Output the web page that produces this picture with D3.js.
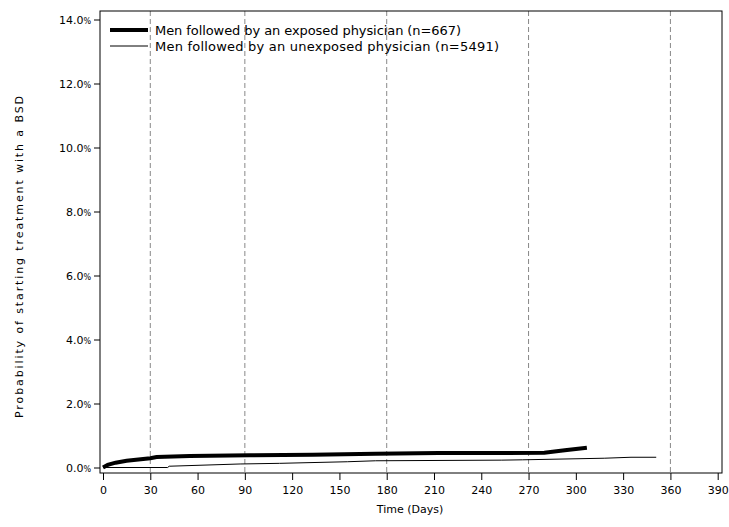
<!DOCTYPE html>
<html>
<head>
<meta charset="utf-8">
<script src="https://cdn.jsdelivr.net/npm/d3@7"></script>
<style>
  body { margin: 0; background: #fff; }
  text { font-family: "DejaVu Sans", sans-serif; fill: #000; }
</style>
</head>
<body>
<div id="chart"></div>
<script>
// days and cumulative probability (%)
var exposedDays = [0, 3, 8, 15, 30, 34, 55, 93, 133, 173, 213, 280, 293, 307];
var exposedPct  = [0, 0.08, 0.15, 0.21, 0.29, 0.33, 0.36, 0.38, 0.40, 0.43, 0.45, 0.46, 0.54, 0.62];

var unexposedDays = [0, 41, 42, 87, 112, 155, 173, 253, 266, 318, 335, 351];
var unexposedPct  = [0, 0.0, 0.04, 0.11, 0.13, 0.18, 0.21, 0.23, 0.24, 0.29, 0.32, 0.32];

var refDays = [30, 90, 180, 270, 360];
var xTicks = d3.range(0, 391, 30);
var yTicks = d3.range(0, 14.1, 2);

var legendLabels = ["Men followed by an exposed physician (n=667)",
                    "Men followed by an unexposed physician (n=5491)"];

var width = 729, height = 527;
var frame = {left: 100, right: 722, top: 11, bottom: 473};

var svg = d3.select("#chart").append("svg")
    .attr("width", width)
    .attr("height", height);

var x = d3.scaleLinear().domain([0, 390]).range([103, 717.7]);
var y = d3.scaleLinear().domain([0, 14]).range([467.5, 19.5]);

// reference lines
svg.selectAll(".ref").data(refDays).enter().append("line")
    .attr("x1", d => x(d)).attr("x2", d => x(d))
    .attr("y1", frame.top).attr("y2", frame.bottom)
    .attr("stroke", "#888").attr("stroke-width", 1)
    .attr("stroke-dasharray", "5,3");

// frame
svg.append("rect")
    .attr("x", frame.left).attr("y", frame.top)
    .attr("width", frame.right - frame.left)
    .attr("height", frame.bottom - frame.top)
    .attr("fill", "none").attr("stroke", "#000").attr("stroke-width", 1);

// axes
var xAxis = d3.axisBottom(x).tickValues(xTicks).tickSize(7).tickPadding(6);
var gx = svg.append("g").attr("transform", "translate(0," + frame.bottom + ")").call(xAxis);
gx.select(".domain").remove();
gx.selectAll("text").style("font-size", "11px").style("font-family", "DejaVu Sans");

var yAxis = d3.axisLeft(y).tickValues(yTicks).tickSize(6).tickPadding(3)
    .tickFormat(d => d.toFixed(1));
var gy = svg.append("g").attr("transform", "translate(" + frame.left + ",0)").call(yAxis);
gy.select(".domain").remove();
gy.selectAll("text").style("font-size", "11px").style("font-family", "DejaVu Sans")
    .append("tspan").text("%").style("font-size", "8px");

svg.append("text")
    .attr("x", 410).attr("y", 513)
    .attr("text-anchor", "middle")
    .style("font-size", "11px")
    .text("Time (Days)");

svg.append("text")
    .attr("transform", "translate(23,257) rotate(-90)")
    .attr("text-anchor", "middle")
    .attr("textLength", 322)
    .attr("lengthAdjust", "spacing")
    .style("font-size", "11px")
    .text("Probability of starting treatment with a BSD");

// curves
var line = d3.line().x(d => x(d[0])).y(d => y(d[1]));

svg.append("path")
    .datum(unexposedDays.map((d, i) => [d, unexposedPct[i]]))
    .attr("d", line)
    .attr("fill", "none").attr("stroke", "#000").attr("stroke-width", 1);

svg.append("path")
    .datum(exposedDays.map((d, i) => [d, exposedPct[i]]))
    .attr("d", line)
    .attr("fill", "none").attr("stroke", "#000").attr("stroke-width", 4);

// legend
var legend = svg.append("g");
var legendWidths = [306, 344];
[4, 1].forEach(function(w, i) {
    var ly = 30 + i * 16;
    legend.append("line")
        .attr("x1", 110).attr("x2", 148)
        .attr("y1", ly).attr("y2", ly)
        .attr("stroke", "#000").attr("stroke-width", w);
    legend.append("text")
        .attr("x", 155).attr("y", ly + 5)
        .attr("textLength", legendWidths[i])
        .attr("lengthAdjust", "spacing")
        .style("font-size", "13px")
        .text(legendLabels[i]);
});
</script>
</body>
</html>
